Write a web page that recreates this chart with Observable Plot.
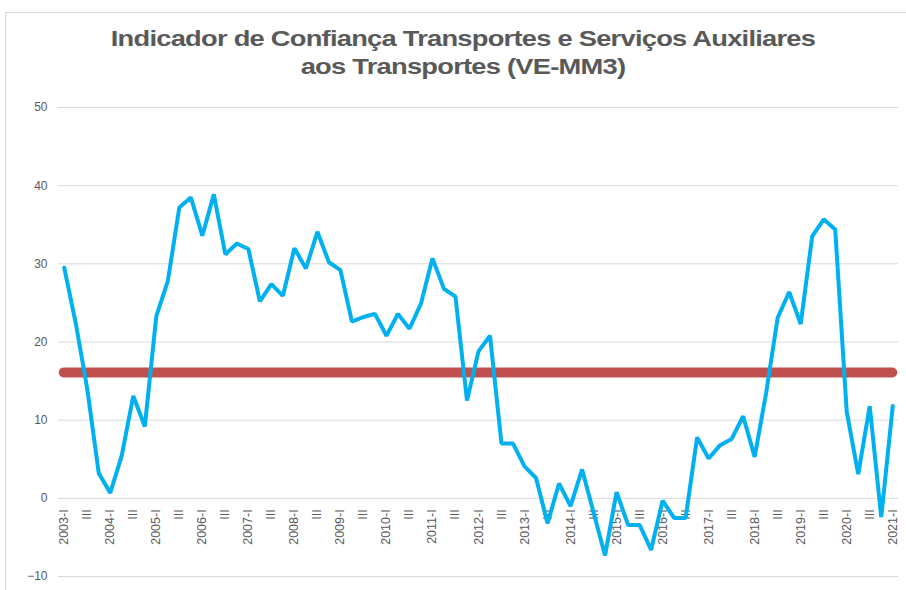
<!DOCTYPE html>
<html>
<head>
<meta charset="utf-8">
<script src="https://cdn.jsdelivr.net/npm/d3@7"></script>
<script src="https://cdn.jsdelivr.net/npm/@observablehq/plot@0.6"></script>
<style>
  html, body { margin: 0; padding: 0; background: #fff; }
  #wrap { position: relative; width: 906px; height: 590px; overflow: hidden; font-family: "Liberation Sans", Arial, sans-serif; }
  #frame { position: absolute; left: 5px; top: 12px; width: 1000px; height: 1000px; border-left: 1px solid #d9d9d9; border-top: 1px solid #d9d9d9; }
  #title { position: absolute; left: 0; top: 25px; width: 926px; text-align: center; font-size: 21.5px; font-weight: bold; color: #595959; line-height: 28px; letter-spacing: -0.6px; transform: scaleX(1.27); transform-origin: 463px 0; }
  #chart { position: absolute; left: 0; top: 90px; }
</style>
</head>
<body>
<div id="wrap">
  <div id="frame"></div>
  <div id="title">Indicador de Confiança Transportes e Serviços Auxiliares<br>aos Transportes (VE-MM3)</div>
  <div id="chart"></div>
</div>
<script>
// Índice trimestral 2003-I .. 2021-I (73 trimestres)
const valores = [
  29.5, 22.4, 14.0, 3.2,  0.7, 5.5, 13.1, 9.2,
  23.3, 27.8, 37.2, 38.5, 33.6, 38.9, 31.2, 32.6,
  31.9, 25.2, 27.4, 25.9, 32.0, 29.4, 34.1, 30.2,
  29.2, 22.6, 23.2, 23.6, 20.8, 23.6, 21.7, 24.9,
  30.7, 26.8, 25.8, 12.5, 18.8, 20.8, 7.0, 7.0,
  4.1, 2.6, -3.2, 1.9, -1.0, 3.7, -1.8, -7.3,
  0.8, -3.4, -3.4, -6.6, -0.3, -2.5, -2.5, 7.8,
  5.1, 6.8, 7.6, 10.5, 5.3, 13.5, 23.1, 26.4,
  22.3, 33.5, 35.7, 34.4, 11.1, 3.1, 11.8, -2.4,
  11.8
];
const media = 16.1;
const rotulosX = [
  "2003-I","III","2004-I","III","2005-I","III","2006-I","III","2007-I","III",
  "2008-I","III","2009-I","III","2010-I","III","2011-I","III","2012-I","III",
  "2013-I","III","2014-I","III","2015-I","III","2016-I","III","2017-I","III",
  "2018-I","III","2019-I","III","2020-I","III","2021-I"
];
const ticksY = [-10, 0, 10, 20, 30, 40, 50];

const serie = valores.map((v, i) => ({i, v}));
const rotulos = rotulosX.map((t, k) => ({i: k * 2, t}));
const n = valores.length - 1;

const chart = Plot.plot({
  width: 906,
  height: 500,
  marginLeft: 58,
  marginRight: 8,
  marginTop: 17,
  marginBottom: 14,
  style: {fontFamily: "'Liberation Sans', Arial, sans-serif", background: "transparent"},
  x: {domain: [-0.5, n + 0.5], axis: null},
  y: {domain: [-10, 50], ticks: ticksY, tickSize: 0, tickPadding: 11, label: null},
  marks: [
    Plot.ruleY(ticksY, {stroke: "#d9d9d9", strokeWidth: 1}),
    Plot.axisY({ticks: ticksY, tickSize: 0, tickPadding: 11, fontSize: 12, fill: "#595959", label: null}),
    Plot.text(rotulos, {x: "i", y: () => 0, text: "t", rotate: -90, textAnchor: "end", dy: 11, fontSize: 12.5, fill: "#595959"}),
    Plot.ruleY([media], {x1: 0, x2: n, stroke: "#C0504D", strokeWidth: 10, strokeLinecap: "round"}),
    Plot.line(serie, {x: "i", y: "v", stroke: "#00B0F0", strokeWidth: 4, strokeLinejoin: "miter", curve: "linear"})
  ]
});
document.getElementById("chart").appendChild(chart);
</script>
</body>
</html>
